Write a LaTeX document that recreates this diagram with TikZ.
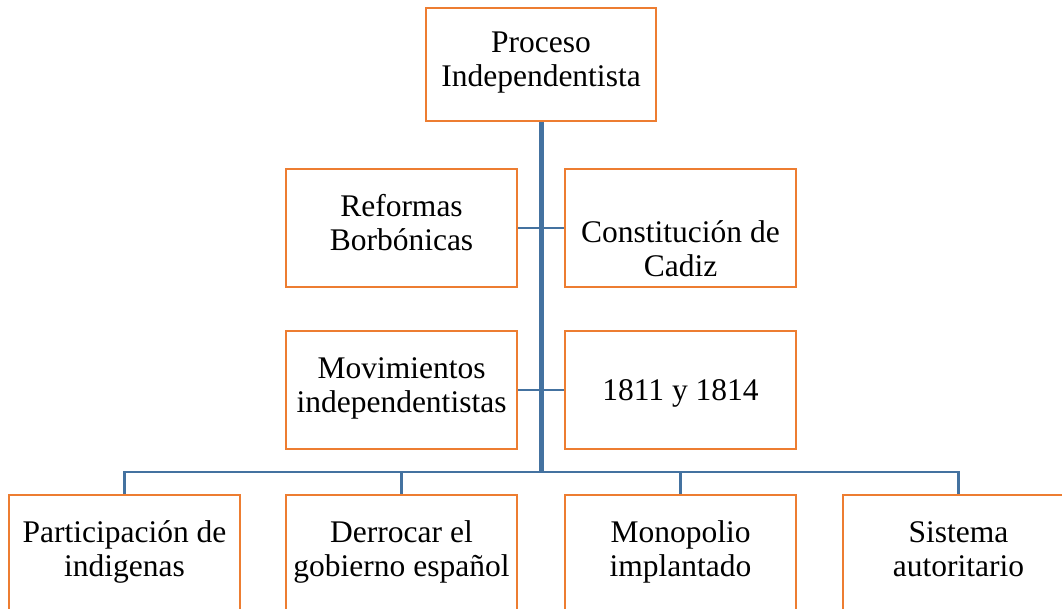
\documentclass[tikz,border=0pt]{standalone}
\usepackage{fontspec}
\setmainfont{Liberation Serif}
\usepackage{tikz}
\usetikzlibrary{positioning, calc}
\definecolor{boxorange}{RGB}{237, 125, 49}
\definecolor{linkblue}{RGB}{68, 114, 160}

\begin{document}
\begin{tikzpicture}[
  x=1pt, y=-1pt,
  box/.style={draw=boxorange, line width=2.8pt, fill=white, minimum width=231pt, minimum height=118pt, inner sep=2pt, align=center, font=\fontsize{31.5}{34}\selectfont, execute at begin node={\rule{0pt}{31pt}}, execute at end node={\rule[-10.2pt]{0pt}{10.2pt}}},
  trunk/.style={draw=linkblue, line width=5pt},
  branch/.style={draw=linkblue, line width=2.8pt},
]
  \clip (0, 0) rectangle (1062, 609);
  \fill[white] (0, 0) rectangle (1062, 609);
  \node[box, minimum width=230pt, minimum height=113pt] (top) at (541, 64.5) {Proceso\\Independentista};
  \node[box] (ref) at (401.5, 228) {Reformas\\Borbónicas};
  \node[box, inner ysep=0pt] (cons) at (680.5, 228) {\rule{0pt}{73.5pt}Constitución de\\Cadiz};
  \node[box] (mov) at (401.5, 390) {Movimientos\\independentistas};
  \node[box] (anios) at (680.5, 390) {1811 y 1814};
  \node[box] (part) at (124.5, 554) {Participación de\\indigenas};
  \node[box] (derr) at (401.5, 554) {Derrocar el\\gobierno español};
  \node[box] (mono) at (680.5, 554) {Monopolio\\implantado};
  \node[box] (sist) at (958.5, 554) {Sistema\\autoritario};
  \coordinate (bus) at (541, 472);
  \draw[branch] (ref.east) -- (cons.west);
  \draw[branch] (mov.east) -- (anios.west);
  \draw[branch] (part.north) |- (bus) -| (sist.north);
  \draw[branch] (derr.north) -- (derr.north |- bus);
  \draw[branch] (mono.north) -- (mono.north |- bus);
  \draw[trunk] (top.south) -- ([yshift=1.4pt]bus);
\end{tikzpicture}
\end{document}
